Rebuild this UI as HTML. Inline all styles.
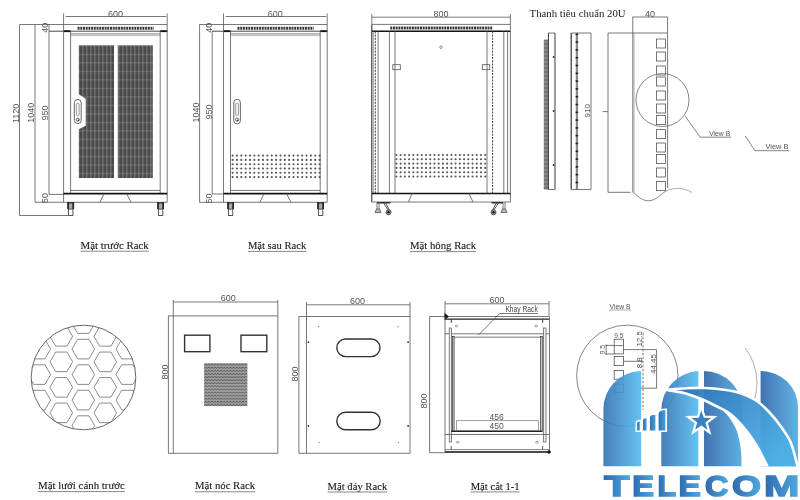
<!DOCTYPE html>
<html><head><meta charset="utf-8"><style>
html,body{margin:0;padding:0;background:#fff;}
svg{display:block;filter:blur(0.3px);}
</style></head><body>
<svg width="800" height="500" viewBox="0 0 800 500">
<rect width="800" height="500" fill="#fff"/>
<text x="115.39999999999999" y="17.0" font-family="Liberation Sans" font-size="9" fill="#555" text-anchor="middle" >600</text>
<line x1="65.6" y1="16.5" x2="166.2" y2="16.5" stroke="#555" stroke-width="0.8" />
<line x1="63.6" y1="13.5" x2="63.6" y2="24.5" stroke="#555" stroke-width="0.8" />
<line x1="167.2" y1="13.5" x2="167.2" y2="24.5" stroke="#555" stroke-width="0.8" />
<line x1="19.6" y1="24.5" x2="167.2" y2="24.5" stroke="#555" stroke-width="0.8" />
<line x1="77.6" y1="28.2" x2="153.7" y2="28.2" stroke="#3a3a3a" stroke-width="3" stroke-dasharray="2 0.7"/>
<line x1="49.0" y1="31.2" x2="167.2" y2="31.2" stroke="#333" stroke-width="0.9" />
<line x1="63.6" y1="31.2" x2="70.6" y2="31.2" stroke="#111" stroke-width="1.8" />
<line x1="160.2" y1="31.2" x2="167.2" y2="31.2" stroke="#111" stroke-width="1.8" />
<line x1="63.6" y1="24.5" x2="63.6" y2="202.3" stroke="#555" stroke-width="0.8" />
<line x1="167.2" y1="24.5" x2="167.2" y2="202.3" stroke="#555" stroke-width="0.8" />
<line x1="70.6" y1="31.2" x2="70.6" y2="193.5" stroke="#555" stroke-width="0.8" />
<line x1="160.2" y1="31.2" x2="160.2" y2="193.5" stroke="#555" stroke-width="0.8" />
<line x1="70.6" y1="33.9" x2="160.2" y2="33.9" stroke="#555" stroke-width="0.8" />
<line x1="70.6" y1="35.6" x2="160.2" y2="35.6" stroke="#888" stroke-width="0.6" />
<line x1="70.6" y1="190.4" x2="160.2" y2="190.4" stroke="#555" stroke-width="0.8" />
<line x1="63.6" y1="193.6" x2="167.2" y2="193.6" stroke="#111" stroke-width="1.6" />
<line x1="63.6" y1="202.3" x2="167.2" y2="202.3" stroke="#555" stroke-width="0.8" />
<line x1="104.19999999999999" y1="193.6" x2="99.79999999999998" y2="202.3" stroke="#555" stroke-width="0.8" />
<line x1="126.6" y1="193.6" x2="131.0" y2="202.3" stroke="#555" stroke-width="0.8" />
<rect x="67.4" y="202.3" width="6.6" height="6.8" fill="#aaa"/>
<rect x="67.3" y="202.3" width="1.7" height="6.8" fill="#222"/>
<rect x="72.4" y="202.3" width="1.7" height="6.8" fill="#222"/>
<rect x="67.3" y="202.3" width="6.8" height="1.2" fill="#222"/>
<rect x="68.5" y="209.10000000000002" width="4.4" height="6.4" stroke="#444" stroke-width="0.9" fill="#fff" />
<rect x="157.29999999999998" y="202.3" width="6.6" height="6.8" fill="#aaa"/>
<rect x="157.2" y="202.3" width="1.7" height="6.8" fill="#222"/>
<rect x="162.29999999999998" y="202.3" width="1.7" height="6.8" fill="#222"/>
<rect x="157.2" y="202.3" width="6.8" height="1.2" fill="#222"/>
<rect x="158.4" y="209.10000000000002" width="4.4" height="6.4" stroke="#444" stroke-width="0.9" fill="#fff" />
<defs>
<pattern id="mesh" width="4" height="8.5" patternUnits="userSpaceOnUse" x="0.3" y="45.3">
<rect width="4" height="8.5" fill="#484848"/>
<rect x="2" width="1.1" height="8.5" fill="#7c7c7c"/>
<rect y="0" width="4" height="1.3" fill="#666"/>
<rect x="2" y="0" width="1.1" height="1.3" fill="#8a8a8a"/>
</pattern>
<pattern id="mesh2" width="3.1" height="3.1" patternUnits="userSpaceOnUse" x="204.1" y="363.1">
<rect width="3.1" height="3.1" fill="#a8a8a8"/>
<path d="M0 2.3 L1.55 0.8 L3.1 2.3" fill="none" stroke="#5a5a5a" stroke-width="0.9"/>
</pattern>
</defs>
<path d="M78.8 45.3 H114 V178 H78.8 V129.3 L85.7 125.8 V98.8 L78.8 94.2 Z" fill="url(#mesh)"/>
<path d="M117.8 45.3 H152.8 V178 H117.8 Z" fill="url(#mesh)"/>
<rect x="74.3" y="99.5" width="6.9" height="24" stroke="#555" stroke-width="0.9" fill="#fff" rx="3.2"/>
<rect x="76.3" y="103.4" width="2.9" height="12.2" stroke="#777" stroke-width="0.7" fill="#f4f4f4" rx="1"/>
<circle cx="77.8" cy="119.6" r="1.6" fill="none" stroke="#444" stroke-width="0.8"/><circle cx="78.4" cy="120.2" r="0.7" fill="#222"/>
<line x1="19.5" y1="24.5" x2="19.5" y2="215.5" stroke="#555" stroke-width="0.8" />
<line x1="19.5" y1="215.5" x2="72" y2="215.5" stroke="#555" stroke-width="0.8" />
<line x1="35" y1="24.5" x2="35" y2="202.3" stroke="#555" stroke-width="0.8" />
<line x1="35" y1="202.3" x2="63.6" y2="202.3" stroke="#555" stroke-width="0.8" />
<line x1="49" y1="31.2" x2="49" y2="194.4" stroke="#555" stroke-width="0.8" />
<line x1="49" y1="194.4" x2="63.6" y2="194.4" stroke="#555" stroke-width="0.8" />
<line x1="49" y1="24.5" x2="49" y2="31.2" stroke="#555" stroke-width="0.8" />
<text x="19.0" y="113.3" font-family="Liberation Sans" font-size="9" fill="#555" text-anchor="middle" transform="rotate(-90 19.0 113.3)" >1120</text>
<text x="34.4" y="112.8" font-family="Liberation Sans" font-size="9" fill="#555" text-anchor="middle" transform="rotate(-90 34.4 112.8)" >1040</text>
<text x="48.4" y="113" font-family="Liberation Sans" font-size="9" fill="#555" text-anchor="middle" transform="rotate(-90 48.4 113)" >950</text>
<text x="48.0" y="27.8" font-family="Liberation Sans" font-size="9" fill="#555" text-anchor="middle" transform="rotate(-90 48.0 27.8)" >40</text>
<text x="48.0" y="198" font-family="Liberation Sans" font-size="9" fill="#555" text-anchor="middle" transform="rotate(-90 48.0 198)" >50</text>
<text x="275.35" y="17.0" font-family="Liberation Sans" font-size="9" fill="#555" text-anchor="middle" >600</text>
<line x1="225.5" y1="16.5" x2="326.2" y2="16.5" stroke="#555" stroke-width="0.8" />
<line x1="223.5" y1="13.5" x2="223.5" y2="24.5" stroke="#555" stroke-width="0.8" />
<line x1="327.2" y1="13.5" x2="327.2" y2="24.5" stroke="#555" stroke-width="0.8" />
<line x1="199.5" y1="24.5" x2="327.2" y2="24.5" stroke="#555" stroke-width="0.8" />
<line x1="237.5" y1="28.2" x2="313.7" y2="28.2" stroke="#3a3a3a" stroke-width="3" stroke-dasharray="2 0.7"/>
<line x1="212.0" y1="31.2" x2="327.2" y2="31.2" stroke="#333" stroke-width="0.9" />
<line x1="223.5" y1="31.2" x2="230.5" y2="31.2" stroke="#111" stroke-width="1.8" />
<line x1="320.2" y1="31.2" x2="327.2" y2="31.2" stroke="#111" stroke-width="1.8" />
<line x1="223.5" y1="24.5" x2="223.5" y2="202.3" stroke="#555" stroke-width="0.8" />
<line x1="327.2" y1="24.5" x2="327.2" y2="202.3" stroke="#555" stroke-width="0.8" />
<line x1="230.5" y1="31.2" x2="230.5" y2="193.5" stroke="#555" stroke-width="0.8" />
<line x1="320.2" y1="31.2" x2="320.2" y2="193.5" stroke="#555" stroke-width="0.8" />
<line x1="230.5" y1="33.9" x2="320.2" y2="33.9" stroke="#555" stroke-width="0.8" />
<line x1="230.5" y1="35.6" x2="320.2" y2="35.6" stroke="#888" stroke-width="0.6" />
<line x1="230.5" y1="190.4" x2="320.2" y2="190.4" stroke="#555" stroke-width="0.8" />
<line x1="223.5" y1="193.6" x2="327.2" y2="193.6" stroke="#111" stroke-width="1.6" />
<line x1="223.5" y1="202.3" x2="327.2" y2="202.3" stroke="#555" stroke-width="0.8" />
<line x1="264.15000000000003" y1="193.6" x2="259.75000000000006" y2="202.3" stroke="#555" stroke-width="0.8" />
<line x1="286.55" y1="193.6" x2="290.95" y2="202.3" stroke="#555" stroke-width="0.8" />
<rect x="227.29999999999998" y="202.3" width="6.6" height="6.8" fill="#aaa"/>
<rect x="227.2" y="202.3" width="1.7" height="6.8" fill="#222"/>
<rect x="232.29999999999998" y="202.3" width="1.7" height="6.8" fill="#222"/>
<rect x="227.2" y="202.3" width="6.8" height="1.2" fill="#222"/>
<rect x="228.4" y="209.10000000000002" width="4.4" height="6.4" stroke="#444" stroke-width="0.9" fill="#fff" />
<rect x="317.29999999999995" y="202.3" width="6.6" height="6.8" fill="#aaa"/>
<rect x="317.2" y="202.3" width="1.7" height="6.8" fill="#222"/>
<rect x="322.29999999999995" y="202.3" width="1.7" height="6.8" fill="#222"/>
<rect x="317.2" y="202.3" width="6.8" height="1.2" fill="#222"/>
<rect x="318.4" y="209.10000000000002" width="4.4" height="6.4" stroke="#444" stroke-width="0.9" fill="#fff" />
<circle cx="232.60" cy="155.60" r="1.05" fill="#555"/>
<circle cx="236.95" cy="155.60" r="1.05" fill="#555"/>
<circle cx="241.30" cy="155.60" r="1.05" fill="#555"/>
<circle cx="245.65" cy="155.60" r="1.05" fill="#555"/>
<circle cx="250.00" cy="155.60" r="1.05" fill="#555"/>
<circle cx="254.35" cy="155.60" r="1.05" fill="#555"/>
<circle cx="258.70" cy="155.60" r="1.05" fill="#555"/>
<circle cx="263.05" cy="155.60" r="1.05" fill="#555"/>
<circle cx="267.40" cy="155.60" r="1.05" fill="#555"/>
<circle cx="271.75" cy="155.60" r="1.05" fill="#555"/>
<circle cx="276.10" cy="155.60" r="1.05" fill="#555"/>
<circle cx="280.45" cy="155.60" r="1.05" fill="#555"/>
<circle cx="284.80" cy="155.60" r="1.05" fill="#555"/>
<circle cx="289.15" cy="155.60" r="1.05" fill="#555"/>
<circle cx="293.50" cy="155.60" r="1.05" fill="#555"/>
<circle cx="297.85" cy="155.60" r="1.05" fill="#555"/>
<circle cx="302.20" cy="155.60" r="1.05" fill="#555"/>
<circle cx="306.55" cy="155.60" r="1.05" fill="#555"/>
<circle cx="310.90" cy="155.60" r="1.05" fill="#555"/>
<circle cx="315.25" cy="155.60" r="1.05" fill="#555"/>
<circle cx="319.60" cy="155.60" r="1.05" fill="#555"/>
<circle cx="232.60" cy="159.90" r="1.05" fill="#555"/>
<circle cx="236.95" cy="159.90" r="1.05" fill="#555"/>
<circle cx="241.30" cy="159.90" r="1.05" fill="#555"/>
<circle cx="245.65" cy="159.90" r="1.05" fill="#555"/>
<circle cx="250.00" cy="159.90" r="1.05" fill="#555"/>
<circle cx="254.35" cy="159.90" r="1.05" fill="#555"/>
<circle cx="258.70" cy="159.90" r="1.05" fill="#555"/>
<circle cx="263.05" cy="159.90" r="1.05" fill="#555"/>
<circle cx="267.40" cy="159.90" r="1.05" fill="#555"/>
<circle cx="271.75" cy="159.90" r="1.05" fill="#555"/>
<circle cx="276.10" cy="159.90" r="1.05" fill="#555"/>
<circle cx="280.45" cy="159.90" r="1.05" fill="#555"/>
<circle cx="284.80" cy="159.90" r="1.05" fill="#555"/>
<circle cx="289.15" cy="159.90" r="1.05" fill="#555"/>
<circle cx="293.50" cy="159.90" r="1.05" fill="#555"/>
<circle cx="297.85" cy="159.90" r="1.05" fill="#555"/>
<circle cx="302.20" cy="159.90" r="1.05" fill="#555"/>
<circle cx="306.55" cy="159.90" r="1.05" fill="#555"/>
<circle cx="310.90" cy="159.90" r="1.05" fill="#555"/>
<circle cx="315.25" cy="159.90" r="1.05" fill="#555"/>
<circle cx="319.60" cy="159.90" r="1.05" fill="#555"/>
<circle cx="232.60" cy="164.20" r="1.05" fill="#555"/>
<circle cx="236.95" cy="164.20" r="1.05" fill="#555"/>
<circle cx="241.30" cy="164.20" r="1.05" fill="#555"/>
<circle cx="245.65" cy="164.20" r="1.05" fill="#555"/>
<circle cx="250.00" cy="164.20" r="1.05" fill="#555"/>
<circle cx="254.35" cy="164.20" r="1.05" fill="#555"/>
<circle cx="258.70" cy="164.20" r="1.05" fill="#555"/>
<circle cx="263.05" cy="164.20" r="1.05" fill="#555"/>
<circle cx="267.40" cy="164.20" r="1.05" fill="#555"/>
<circle cx="271.75" cy="164.20" r="1.05" fill="#555"/>
<circle cx="276.10" cy="164.20" r="1.05" fill="#555"/>
<circle cx="280.45" cy="164.20" r="1.05" fill="#555"/>
<circle cx="284.80" cy="164.20" r="1.05" fill="#555"/>
<circle cx="289.15" cy="164.20" r="1.05" fill="#555"/>
<circle cx="293.50" cy="164.20" r="1.05" fill="#555"/>
<circle cx="297.85" cy="164.20" r="1.05" fill="#555"/>
<circle cx="302.20" cy="164.20" r="1.05" fill="#555"/>
<circle cx="306.55" cy="164.20" r="1.05" fill="#555"/>
<circle cx="310.90" cy="164.20" r="1.05" fill="#555"/>
<circle cx="315.25" cy="164.20" r="1.05" fill="#555"/>
<circle cx="319.60" cy="164.20" r="1.05" fill="#555"/>
<circle cx="232.60" cy="168.50" r="1.05" fill="#555"/>
<circle cx="236.95" cy="168.50" r="1.05" fill="#555"/>
<circle cx="241.30" cy="168.50" r="1.05" fill="#555"/>
<circle cx="245.65" cy="168.50" r="1.05" fill="#555"/>
<circle cx="250.00" cy="168.50" r="1.05" fill="#555"/>
<circle cx="254.35" cy="168.50" r="1.05" fill="#555"/>
<circle cx="258.70" cy="168.50" r="1.05" fill="#555"/>
<circle cx="263.05" cy="168.50" r="1.05" fill="#555"/>
<circle cx="267.40" cy="168.50" r="1.05" fill="#555"/>
<circle cx="271.75" cy="168.50" r="1.05" fill="#555"/>
<circle cx="276.10" cy="168.50" r="1.05" fill="#555"/>
<circle cx="280.45" cy="168.50" r="1.05" fill="#555"/>
<circle cx="284.80" cy="168.50" r="1.05" fill="#555"/>
<circle cx="289.15" cy="168.50" r="1.05" fill="#555"/>
<circle cx="293.50" cy="168.50" r="1.05" fill="#555"/>
<circle cx="297.85" cy="168.50" r="1.05" fill="#555"/>
<circle cx="302.20" cy="168.50" r="1.05" fill="#555"/>
<circle cx="306.55" cy="168.50" r="1.05" fill="#555"/>
<circle cx="310.90" cy="168.50" r="1.05" fill="#555"/>
<circle cx="315.25" cy="168.50" r="1.05" fill="#555"/>
<circle cx="319.60" cy="168.50" r="1.05" fill="#555"/>
<circle cx="232.60" cy="172.80" r="1.05" fill="#555"/>
<circle cx="236.95" cy="172.80" r="1.05" fill="#555"/>
<circle cx="241.30" cy="172.80" r="1.05" fill="#555"/>
<circle cx="245.65" cy="172.80" r="1.05" fill="#555"/>
<circle cx="250.00" cy="172.80" r="1.05" fill="#555"/>
<circle cx="254.35" cy="172.80" r="1.05" fill="#555"/>
<circle cx="258.70" cy="172.80" r="1.05" fill="#555"/>
<circle cx="263.05" cy="172.80" r="1.05" fill="#555"/>
<circle cx="267.40" cy="172.80" r="1.05" fill="#555"/>
<circle cx="271.75" cy="172.80" r="1.05" fill="#555"/>
<circle cx="276.10" cy="172.80" r="1.05" fill="#555"/>
<circle cx="280.45" cy="172.80" r="1.05" fill="#555"/>
<circle cx="284.80" cy="172.80" r="1.05" fill="#555"/>
<circle cx="289.15" cy="172.80" r="1.05" fill="#555"/>
<circle cx="293.50" cy="172.80" r="1.05" fill="#555"/>
<circle cx="297.85" cy="172.80" r="1.05" fill="#555"/>
<circle cx="302.20" cy="172.80" r="1.05" fill="#555"/>
<circle cx="306.55" cy="172.80" r="1.05" fill="#555"/>
<circle cx="310.90" cy="172.80" r="1.05" fill="#555"/>
<circle cx="315.25" cy="172.80" r="1.05" fill="#555"/>
<circle cx="319.60" cy="172.80" r="1.05" fill="#555"/>
<circle cx="232.60" cy="177.10" r="1.05" fill="#555"/>
<circle cx="236.95" cy="177.10" r="1.05" fill="#555"/>
<circle cx="241.30" cy="177.10" r="1.05" fill="#555"/>
<circle cx="245.65" cy="177.10" r="1.05" fill="#555"/>
<circle cx="250.00" cy="177.10" r="1.05" fill="#555"/>
<circle cx="254.35" cy="177.10" r="1.05" fill="#555"/>
<circle cx="258.70" cy="177.10" r="1.05" fill="#555"/>
<circle cx="263.05" cy="177.10" r="1.05" fill="#555"/>
<circle cx="267.40" cy="177.10" r="1.05" fill="#555"/>
<circle cx="271.75" cy="177.10" r="1.05" fill="#555"/>
<circle cx="276.10" cy="177.10" r="1.05" fill="#555"/>
<circle cx="280.45" cy="177.10" r="1.05" fill="#555"/>
<circle cx="284.80" cy="177.10" r="1.05" fill="#555"/>
<circle cx="289.15" cy="177.10" r="1.05" fill="#555"/>
<circle cx="293.50" cy="177.10" r="1.05" fill="#555"/>
<circle cx="297.85" cy="177.10" r="1.05" fill="#555"/>
<circle cx="302.20" cy="177.10" r="1.05" fill="#555"/>
<circle cx="306.55" cy="177.10" r="1.05" fill="#555"/>
<circle cx="310.90" cy="177.10" r="1.05" fill="#555"/>
<circle cx="315.25" cy="177.10" r="1.05" fill="#555"/>
<circle cx="319.60" cy="177.10" r="1.05" fill="#555"/>
<rect x="233.8" y="99.3" width="6.6" height="24.6" stroke="#555" stroke-width="0.9" fill="#fff" rx="3.2"/>
<rect x="235.7" y="103.2" width="2.9" height="12.2" stroke="#777" stroke-width="0.7" fill="#f4f4f4" rx="1"/>
<circle cx="237.1" cy="119.6" r="1.6" fill="none" stroke="#444" stroke-width="0.8"/><circle cx="237.7" cy="120.2" r="0.7" fill="#222"/>
<line x1="199.6" y1="24.5" x2="199.6" y2="202.3" stroke="#555" stroke-width="0.8" />
<line x1="199.6" y1="202.3" x2="223.5" y2="202.3" stroke="#555" stroke-width="0.8" />
<line x1="212.2" y1="31.2" x2="212.2" y2="194" stroke="#555" stroke-width="0.8" />
<line x1="212.2" y1="194" x2="223.5" y2="194" stroke="#555" stroke-width="0.8" />
<text x="199.2" y="112.5" font-family="Liberation Sans" font-size="9" fill="#555" text-anchor="middle" transform="rotate(-90 199.2 112.5)" >1040</text>
<text x="211.6" y="112" font-family="Liberation Sans" font-size="9" fill="#555" text-anchor="middle" transform="rotate(-90 211.6 112)" >950</text>
<text x="211.8" y="27.8" font-family="Liberation Sans" font-size="9" fill="#555" text-anchor="middle" transform="rotate(-90 211.8 27.8)" >40</text>
<text x="211.8" y="198.5" font-family="Liberation Sans" font-size="9" fill="#555" text-anchor="middle" transform="rotate(-90 211.8 198.5)" >50</text>
<text x="441" y="17.0" font-family="Liberation Sans" font-size="9" fill="#555" text-anchor="middle" >800</text>
<line x1="371.8" y1="17.2" x2="510.4" y2="17.2" stroke="#555" stroke-width="0.8" />
<line x1="371.8" y1="14" x2="371.8" y2="24.4" stroke="#555" stroke-width="0.8" />
<line x1="510.4" y1="14" x2="510.4" y2="24.4" stroke="#555" stroke-width="0.8" />
<line x1="371.8" y1="24.4" x2="510.4" y2="24.4" stroke="#555" stroke-width="0.8" />
<line x1="390.3" y1="28.1" x2="492.2" y2="28.1" stroke="#3a3a3a" stroke-width="3" stroke-dasharray="2 0.7"/>
<line x1="371.8" y1="31.3" x2="510.4" y2="31.3" stroke="#111" stroke-width="1.4" />
<line x1="371.8" y1="24.4" x2="371.8" y2="202" stroke="#333" stroke-width="1.1" />
<line x1="373.4" y1="31.3" x2="373.4" y2="193.5" stroke="#666" stroke-width="0.6" />
<line x1="510.4" y1="24.4" x2="510.4" y2="202" stroke="#555" stroke-width="0.8" />
<line x1="375.3" y1="31.3" x2="375.3" y2="193.5" stroke="#333" stroke-width="0.9" stroke-dasharray="2.2 1"/>
<line x1="492.6" y1="31.3" x2="492.6" y2="193.5" stroke="#333" stroke-width="0.9" stroke-dasharray="2.2 1"/>
<line x1="378.1" y1="31.3" x2="378.1" y2="193.5" stroke="#555" stroke-width="0.8" />
<line x1="389.4" y1="31.3" x2="389.4" y2="193.5" stroke="#555" stroke-width="0.8" />
<line x1="395" y1="31.3" x2="395" y2="193.5" stroke="#555" stroke-width="0.8" />
<line x1="487" y1="31.3" x2="487" y2="193.5" stroke="#555" stroke-width="0.8" />
<line x1="503.8" y1="31.3" x2="503.8" y2="193.5" stroke="#555" stroke-width="0.8" />
<line x1="507.6" y1="31.3" x2="507.6" y2="193.5" stroke="#555" stroke-width="0.8" />
<circle cx="441" cy="47.2" r="1.3" fill="none" stroke="#666" stroke-width="0.7"/>
<rect x="392.8" y="64.7" width="7.5" height="5" stroke="#555" stroke-width="0.8" fill="none" />
<rect x="482.3" y="64.7" width="7.5" height="5" stroke="#555" stroke-width="0.8" fill="none" />
<circle cx="396.40" cy="155.00" r="1.05" fill="#555"/>
<circle cx="400.63" cy="155.00" r="1.05" fill="#555"/>
<circle cx="404.86" cy="155.00" r="1.05" fill="#555"/>
<circle cx="409.09" cy="155.00" r="1.05" fill="#555"/>
<circle cx="413.32" cy="155.00" r="1.05" fill="#555"/>
<circle cx="417.55" cy="155.00" r="1.05" fill="#555"/>
<circle cx="421.78" cy="155.00" r="1.05" fill="#555"/>
<circle cx="426.01" cy="155.00" r="1.05" fill="#555"/>
<circle cx="430.24" cy="155.00" r="1.05" fill="#555"/>
<circle cx="434.47" cy="155.00" r="1.05" fill="#555"/>
<circle cx="438.70" cy="155.00" r="1.05" fill="#555"/>
<circle cx="442.93" cy="155.00" r="1.05" fill="#555"/>
<circle cx="447.16" cy="155.00" r="1.05" fill="#555"/>
<circle cx="451.39" cy="155.00" r="1.05" fill="#555"/>
<circle cx="455.62" cy="155.00" r="1.05" fill="#555"/>
<circle cx="459.85" cy="155.00" r="1.05" fill="#555"/>
<circle cx="464.08" cy="155.00" r="1.05" fill="#555"/>
<circle cx="468.31" cy="155.00" r="1.05" fill="#555"/>
<circle cx="472.54" cy="155.00" r="1.05" fill="#555"/>
<circle cx="476.77" cy="155.00" r="1.05" fill="#555"/>
<circle cx="481.00" cy="155.00" r="1.05" fill="#555"/>
<circle cx="485.23" cy="155.00" r="1.05" fill="#555"/>
<circle cx="396.40" cy="159.30" r="1.05" fill="#555"/>
<circle cx="400.63" cy="159.30" r="1.05" fill="#555"/>
<circle cx="404.86" cy="159.30" r="1.05" fill="#555"/>
<circle cx="409.09" cy="159.30" r="1.05" fill="#555"/>
<circle cx="413.32" cy="159.30" r="1.05" fill="#555"/>
<circle cx="417.55" cy="159.30" r="1.05" fill="#555"/>
<circle cx="421.78" cy="159.30" r="1.05" fill="#555"/>
<circle cx="426.01" cy="159.30" r="1.05" fill="#555"/>
<circle cx="430.24" cy="159.30" r="1.05" fill="#555"/>
<circle cx="434.47" cy="159.30" r="1.05" fill="#555"/>
<circle cx="438.70" cy="159.30" r="1.05" fill="#555"/>
<circle cx="442.93" cy="159.30" r="1.05" fill="#555"/>
<circle cx="447.16" cy="159.30" r="1.05" fill="#555"/>
<circle cx="451.39" cy="159.30" r="1.05" fill="#555"/>
<circle cx="455.62" cy="159.30" r="1.05" fill="#555"/>
<circle cx="459.85" cy="159.30" r="1.05" fill="#555"/>
<circle cx="464.08" cy="159.30" r="1.05" fill="#555"/>
<circle cx="468.31" cy="159.30" r="1.05" fill="#555"/>
<circle cx="472.54" cy="159.30" r="1.05" fill="#555"/>
<circle cx="476.77" cy="159.30" r="1.05" fill="#555"/>
<circle cx="481.00" cy="159.30" r="1.05" fill="#555"/>
<circle cx="485.23" cy="159.30" r="1.05" fill="#555"/>
<circle cx="396.40" cy="163.60" r="1.05" fill="#555"/>
<circle cx="400.63" cy="163.60" r="1.05" fill="#555"/>
<circle cx="404.86" cy="163.60" r="1.05" fill="#555"/>
<circle cx="409.09" cy="163.60" r="1.05" fill="#555"/>
<circle cx="413.32" cy="163.60" r="1.05" fill="#555"/>
<circle cx="417.55" cy="163.60" r="1.05" fill="#555"/>
<circle cx="421.78" cy="163.60" r="1.05" fill="#555"/>
<circle cx="426.01" cy="163.60" r="1.05" fill="#555"/>
<circle cx="430.24" cy="163.60" r="1.05" fill="#555"/>
<circle cx="434.47" cy="163.60" r="1.05" fill="#555"/>
<circle cx="438.70" cy="163.60" r="1.05" fill="#555"/>
<circle cx="442.93" cy="163.60" r="1.05" fill="#555"/>
<circle cx="447.16" cy="163.60" r="1.05" fill="#555"/>
<circle cx="451.39" cy="163.60" r="1.05" fill="#555"/>
<circle cx="455.62" cy="163.60" r="1.05" fill="#555"/>
<circle cx="459.85" cy="163.60" r="1.05" fill="#555"/>
<circle cx="464.08" cy="163.60" r="1.05" fill="#555"/>
<circle cx="468.31" cy="163.60" r="1.05" fill="#555"/>
<circle cx="472.54" cy="163.60" r="1.05" fill="#555"/>
<circle cx="476.77" cy="163.60" r="1.05" fill="#555"/>
<circle cx="481.00" cy="163.60" r="1.05" fill="#555"/>
<circle cx="485.23" cy="163.60" r="1.05" fill="#555"/>
<circle cx="396.40" cy="167.90" r="1.05" fill="#555"/>
<circle cx="400.63" cy="167.90" r="1.05" fill="#555"/>
<circle cx="404.86" cy="167.90" r="1.05" fill="#555"/>
<circle cx="409.09" cy="167.90" r="1.05" fill="#555"/>
<circle cx="413.32" cy="167.90" r="1.05" fill="#555"/>
<circle cx="417.55" cy="167.90" r="1.05" fill="#555"/>
<circle cx="421.78" cy="167.90" r="1.05" fill="#555"/>
<circle cx="426.01" cy="167.90" r="1.05" fill="#555"/>
<circle cx="430.24" cy="167.90" r="1.05" fill="#555"/>
<circle cx="434.47" cy="167.90" r="1.05" fill="#555"/>
<circle cx="438.70" cy="167.90" r="1.05" fill="#555"/>
<circle cx="442.93" cy="167.90" r="1.05" fill="#555"/>
<circle cx="447.16" cy="167.90" r="1.05" fill="#555"/>
<circle cx="451.39" cy="167.90" r="1.05" fill="#555"/>
<circle cx="455.62" cy="167.90" r="1.05" fill="#555"/>
<circle cx="459.85" cy="167.90" r="1.05" fill="#555"/>
<circle cx="464.08" cy="167.90" r="1.05" fill="#555"/>
<circle cx="468.31" cy="167.90" r="1.05" fill="#555"/>
<circle cx="472.54" cy="167.90" r="1.05" fill="#555"/>
<circle cx="476.77" cy="167.90" r="1.05" fill="#555"/>
<circle cx="481.00" cy="167.90" r="1.05" fill="#555"/>
<circle cx="485.23" cy="167.90" r="1.05" fill="#555"/>
<circle cx="396.40" cy="172.20" r="1.05" fill="#555"/>
<circle cx="400.63" cy="172.20" r="1.05" fill="#555"/>
<circle cx="404.86" cy="172.20" r="1.05" fill="#555"/>
<circle cx="409.09" cy="172.20" r="1.05" fill="#555"/>
<circle cx="413.32" cy="172.20" r="1.05" fill="#555"/>
<circle cx="417.55" cy="172.20" r="1.05" fill="#555"/>
<circle cx="421.78" cy="172.20" r="1.05" fill="#555"/>
<circle cx="426.01" cy="172.20" r="1.05" fill="#555"/>
<circle cx="430.24" cy="172.20" r="1.05" fill="#555"/>
<circle cx="434.47" cy="172.20" r="1.05" fill="#555"/>
<circle cx="438.70" cy="172.20" r="1.05" fill="#555"/>
<circle cx="442.93" cy="172.20" r="1.05" fill="#555"/>
<circle cx="447.16" cy="172.20" r="1.05" fill="#555"/>
<circle cx="451.39" cy="172.20" r="1.05" fill="#555"/>
<circle cx="455.62" cy="172.20" r="1.05" fill="#555"/>
<circle cx="459.85" cy="172.20" r="1.05" fill="#555"/>
<circle cx="464.08" cy="172.20" r="1.05" fill="#555"/>
<circle cx="468.31" cy="172.20" r="1.05" fill="#555"/>
<circle cx="472.54" cy="172.20" r="1.05" fill="#555"/>
<circle cx="476.77" cy="172.20" r="1.05" fill="#555"/>
<circle cx="481.00" cy="172.20" r="1.05" fill="#555"/>
<circle cx="485.23" cy="172.20" r="1.05" fill="#555"/>
<circle cx="396.40" cy="176.50" r="1.05" fill="#555"/>
<circle cx="400.63" cy="176.50" r="1.05" fill="#555"/>
<circle cx="404.86" cy="176.50" r="1.05" fill="#555"/>
<circle cx="409.09" cy="176.50" r="1.05" fill="#555"/>
<circle cx="413.32" cy="176.50" r="1.05" fill="#555"/>
<circle cx="417.55" cy="176.50" r="1.05" fill="#555"/>
<circle cx="421.78" cy="176.50" r="1.05" fill="#555"/>
<circle cx="426.01" cy="176.50" r="1.05" fill="#555"/>
<circle cx="430.24" cy="176.50" r="1.05" fill="#555"/>
<circle cx="434.47" cy="176.50" r="1.05" fill="#555"/>
<circle cx="438.70" cy="176.50" r="1.05" fill="#555"/>
<circle cx="442.93" cy="176.50" r="1.05" fill="#555"/>
<circle cx="447.16" cy="176.50" r="1.05" fill="#555"/>
<circle cx="451.39" cy="176.50" r="1.05" fill="#555"/>
<circle cx="455.62" cy="176.50" r="1.05" fill="#555"/>
<circle cx="459.85" cy="176.50" r="1.05" fill="#555"/>
<circle cx="464.08" cy="176.50" r="1.05" fill="#555"/>
<circle cx="468.31" cy="176.50" r="1.05" fill="#555"/>
<circle cx="472.54" cy="176.50" r="1.05" fill="#555"/>
<circle cx="476.77" cy="176.50" r="1.05" fill="#555"/>
<circle cx="481.00" cy="176.50" r="1.05" fill="#555"/>
<circle cx="485.23" cy="176.50" r="1.05" fill="#555"/>
<line x1="371.8" y1="193.5" x2="510.4" y2="193.5" stroke="#111" stroke-width="1.5" />
<line x1="371.8" y1="202" x2="510.4" y2="202" stroke="#555" stroke-width="0.8" />
<line x1="412" y1="193.5" x2="408.5" y2="202" stroke="#555" stroke-width="0.8" />
<line x1="469" y1="193.5" x2="473" y2="202" stroke="#555" stroke-width="0.8" />
<line x1="377" y1="202.8" x2="390.5" y2="202.8" stroke="#222" stroke-width="1.4" />
<line x1="377" y1="202" x2="377" y2="209" stroke="#555" stroke-width="0.8" />
<line x1="379" y1="202" x2="379" y2="209" stroke="#555" stroke-width="0.8" />
<path d="M375 212.5 L376.5 209 L379.5 209 L381 212.5 Z" fill="#bbb" stroke="#444" stroke-width="0.7"/>
<line x1="383.5" y1="203" x2="388.5" y2="210.5" stroke="#444" stroke-width="0.9" />
<line x1="385.5" y1="203" x2="389.5" y2="210" stroke="#444" stroke-width="0.9" />
<circle cx="388.5" cy="212.3" r="2.5" fill="#aaa" stroke="#333" stroke-width="0.8"/>
<circle cx="388.5" cy="212.3" r="1.2" fill="#111"/>
<line x1="503" y1="202.8" x2="491.5" y2="202.8" stroke="#222" stroke-width="1.4" />
<line x1="503" y1="202" x2="503" y2="209" stroke="#555" stroke-width="0.8" />
<line x1="505" y1="202" x2="505" y2="209" stroke="#555" stroke-width="0.8" />
<path d="M501 212.5 L502.5 209 L505.5 209 L507 212.5 Z" fill="#bbb" stroke="#444" stroke-width="0.7"/>
<line x1="498.5" y1="203" x2="493.5" y2="210.5" stroke="#444" stroke-width="0.9" />
<line x1="496.5" y1="203" x2="492.5" y2="210" stroke="#444" stroke-width="0.9" />
<circle cx="493.5" cy="212.3" r="2.5" fill="#aaa" stroke="#333" stroke-width="0.8"/>
<circle cx="493.5" cy="212.3" r="1.2" fill="#111"/>
<text x="114.64999999999999" y="248.8" font-family="Liberation Serif" font-size="11" fill="#1a1a1a" stroke="#1a1a1a" stroke-width="0.12" text-anchor="middle" textLength="68.1" lengthAdjust="spacingAndGlyphs">Mặt trước Rack</text>
<line x1="80.6" y1="251.20000000000002" x2="148.7" y2="251.20000000000002" stroke="#555" stroke-width="0.7" />
<text x="277.05" y="249" font-family="Liberation Serif" font-size="11" fill="#1a1a1a" stroke="#1a1a1a" stroke-width="0.12" text-anchor="middle" textLength="58.29999999999998" lengthAdjust="spacingAndGlyphs">Mặt sau Rack</text>
<line x1="247.9" y1="251.4" x2="306.2" y2="251.4" stroke="#555" stroke-width="0.7" />
<text x="443.1" y="249.2" font-family="Liberation Serif" font-size="11" fill="#1a1a1a" stroke="#1a1a1a" stroke-width="0.12" text-anchor="middle" textLength="66.19999999999999" lengthAdjust="spacingAndGlyphs">Mặt hông Rack</text>
<line x1="410" y1="251.6" x2="476.2" y2="251.6" stroke="#555" stroke-width="0.7" />
<text x="529.6" y="17" font-family="Liberation Serif" font-size="11" fill="#222" textLength="96" lengthAdjust="spacingAndGlyphs">Thanh tiêu chuẩn 20U</text>
<rect x="543.8" y="40" width="4.4" height="149.5" fill="#888"/>
<line x1="543.8" y1="40" x2="548.2" y2="40" stroke="#444" stroke-width="0.6" />
<line x1="543.8" y1="44" x2="548.2" y2="44" stroke="#444" stroke-width="0.6" />
<line x1="543.8" y1="48" x2="548.2" y2="48" stroke="#444" stroke-width="0.6" />
<line x1="543.8" y1="52" x2="548.2" y2="52" stroke="#444" stroke-width="0.6" />
<line x1="543.8" y1="56" x2="548.2" y2="56" stroke="#444" stroke-width="0.6" />
<line x1="543.8" y1="60" x2="548.2" y2="60" stroke="#444" stroke-width="0.6" />
<line x1="543.8" y1="64" x2="548.2" y2="64" stroke="#444" stroke-width="0.6" />
<line x1="543.8" y1="68" x2="548.2" y2="68" stroke="#444" stroke-width="0.6" />
<line x1="543.8" y1="72" x2="548.2" y2="72" stroke="#444" stroke-width="0.6" />
<line x1="543.8" y1="76" x2="548.2" y2="76" stroke="#444" stroke-width="0.6" />
<line x1="543.8" y1="80" x2="548.2" y2="80" stroke="#444" stroke-width="0.6" />
<line x1="543.8" y1="84" x2="548.2" y2="84" stroke="#444" stroke-width="0.6" />
<line x1="543.8" y1="88" x2="548.2" y2="88" stroke="#444" stroke-width="0.6" />
<line x1="543.8" y1="92" x2="548.2" y2="92" stroke="#444" stroke-width="0.6" />
<line x1="543.8" y1="96" x2="548.2" y2="96" stroke="#444" stroke-width="0.6" />
<line x1="543.8" y1="100" x2="548.2" y2="100" stroke="#444" stroke-width="0.6" />
<line x1="543.8" y1="104" x2="548.2" y2="104" stroke="#444" stroke-width="0.6" />
<line x1="543.8" y1="108" x2="548.2" y2="108" stroke="#444" stroke-width="0.6" />
<line x1="543.8" y1="112" x2="548.2" y2="112" stroke="#444" stroke-width="0.6" />
<line x1="543.8" y1="116" x2="548.2" y2="116" stroke="#444" stroke-width="0.6" />
<line x1="543.8" y1="120" x2="548.2" y2="120" stroke="#444" stroke-width="0.6" />
<line x1="543.8" y1="124" x2="548.2" y2="124" stroke="#444" stroke-width="0.6" />
<line x1="543.8" y1="128" x2="548.2" y2="128" stroke="#444" stroke-width="0.6" />
<line x1="543.8" y1="132" x2="548.2" y2="132" stroke="#444" stroke-width="0.6" />
<line x1="543.8" y1="136" x2="548.2" y2="136" stroke="#444" stroke-width="0.6" />
<line x1="543.8" y1="140" x2="548.2" y2="140" stroke="#444" stroke-width="0.6" />
<line x1="543.8" y1="144" x2="548.2" y2="144" stroke="#444" stroke-width="0.6" />
<line x1="543.8" y1="148" x2="548.2" y2="148" stroke="#444" stroke-width="0.6" />
<line x1="543.8" y1="152" x2="548.2" y2="152" stroke="#444" stroke-width="0.6" />
<line x1="543.8" y1="156" x2="548.2" y2="156" stroke="#444" stroke-width="0.6" />
<line x1="543.8" y1="160" x2="548.2" y2="160" stroke="#444" stroke-width="0.6" />
<line x1="543.8" y1="164" x2="548.2" y2="164" stroke="#444" stroke-width="0.6" />
<line x1="543.8" y1="168" x2="548.2" y2="168" stroke="#444" stroke-width="0.6" />
<line x1="543.8" y1="172" x2="548.2" y2="172" stroke="#444" stroke-width="0.6" />
<line x1="543.8" y1="176" x2="548.2" y2="176" stroke="#444" stroke-width="0.6" />
<line x1="543.8" y1="180" x2="548.2" y2="180" stroke="#444" stroke-width="0.6" />
<line x1="543.8" y1="184" x2="548.2" y2="184" stroke="#444" stroke-width="0.6" />
<line x1="543.8" y1="188" x2="548.2" y2="188" stroke="#444" stroke-width="0.6" />
<line x1="548.4" y1="33" x2="548.4" y2="189.5" stroke="#222" stroke-width="0.9" />
<line x1="555" y1="33" x2="555" y2="189.5" stroke="#222" stroke-width="0.9" />
<line x1="548.4" y1="33" x2="555" y2="33" stroke="#555" stroke-width="0.8" />
<line x1="548.4" y1="189.5" x2="555" y2="189.5" stroke="#555" stroke-width="0.8" />
<circle cx="553.6" cy="57" r="0.9" fill="#222"/><circle cx="553.6" cy="111" r="0.9" fill="#222"/><circle cx="553.6" cy="165" r="0.9" fill="#222"/>
<line x1="571.2" y1="33" x2="571.2" y2="189.5" stroke="#333" stroke-width="1.2" />
<rect x="575.8" y="33" width="2.2" height="156.5" fill="#888"/>
<rect x="575.6" y="33.5" width="2.6" height="1.6" fill="#222"/>
<rect x="575.6" y="41.3" width="2.6" height="1.6" fill="#222"/>
<rect x="575.6" y="49.1" width="2.6" height="1.6" fill="#222"/>
<rect x="575.6" y="56.9" width="2.6" height="1.6" fill="#222"/>
<rect x="575.6" y="64.7" width="2.6" height="1.6" fill="#222"/>
<rect x="575.6" y="72.5" width="2.6" height="1.6" fill="#222"/>
<rect x="575.6" y="80.3" width="2.6" height="1.6" fill="#222"/>
<rect x="575.6" y="88.1" width="2.6" height="1.6" fill="#222"/>
<rect x="575.6" y="95.9" width="2.6" height="1.6" fill="#222"/>
<rect x="575.6" y="103.7" width="2.6" height="1.6" fill="#222"/>
<rect x="575.6" y="111.5" width="2.6" height="1.6" fill="#222"/>
<rect x="575.6" y="119.3" width="2.6" height="1.6" fill="#222"/>
<rect x="575.6" y="127.1" width="2.6" height="1.6" fill="#222"/>
<rect x="575.6" y="134.9" width="2.6" height="1.6" fill="#222"/>
<rect x="575.6" y="142.7" width="2.6" height="1.6" fill="#222"/>
<rect x="575.6" y="150.5" width="2.6" height="1.6" fill="#222"/>
<rect x="575.6" y="158.3" width="2.6" height="1.6" fill="#222"/>
<rect x="575.6" y="166.1" width="2.6" height="1.6" fill="#222"/>
<rect x="575.6" y="173.9" width="2.6" height="1.6" fill="#222"/>
<rect x="575.6" y="181.7" width="2.6" height="1.6" fill="#222"/>
<line x1="591" y1="33" x2="591" y2="189.5" stroke="#555" stroke-width="0.8" />
<line x1="571.2" y1="33" x2="591" y2="33" stroke="#555" stroke-width="0.8" />
<line x1="571.2" y1="189.5" x2="591" y2="189.5" stroke="#555" stroke-width="0.8" />
<text x="589.6" y="110.8" font-family="Liberation Sans" font-size="8" fill="#555" text-anchor="middle" transform="rotate(-90 589.6 110.8)" >910</text>
<line x1="608" y1="33" x2="608" y2="192.3" stroke="#555" stroke-width="0.8" />
<line x1="608" y1="33" x2="667.6" y2="33" stroke="#555" stroke-width="0.8" />
<line x1="608" y1="192.3" x2="630.6" y2="192.3" stroke="#555" stroke-width="0.8" />
<line x1="602.6" y1="111.6" x2="608" y2="111.6" stroke="#555" stroke-width="0.8" />
<line x1="632.8" y1="17" x2="632.8" y2="192.3" stroke="#555" stroke-width="0.8" />
<line x1="634" y1="33" x2="634" y2="193" stroke="#777" stroke-width="0.6" />
<line x1="667.6" y1="17" x2="667.6" y2="188" stroke="#555" stroke-width="0.8" />
<line x1="632.4" y1="17" x2="667.6" y2="17" stroke="#555" stroke-width="0.8" />
<text x="650" y="16.8" font-family="Liberation Sans" font-size="9" fill="#555" text-anchor="middle" >40</text>
<rect x="656.6" y="39" width="9" height="9" stroke="#555" stroke-width="0.8" fill="none" />
<rect x="656.6" y="52" width="9" height="9" stroke="#555" stroke-width="0.8" fill="none" />
<rect x="656.6" y="66" width="9" height="9" stroke="#555" stroke-width="0.8" fill="none" />
<rect x="656.6" y="77" width="9" height="9" stroke="#555" stroke-width="0.8" fill="none" />
<rect x="656.6" y="91" width="9" height="9" stroke="#555" stroke-width="0.8" fill="none" />
<rect x="656.6" y="104" width="9" height="9" stroke="#555" stroke-width="0.8" fill="none" />
<rect x="656.6" y="115.6" width="9" height="9" stroke="#555" stroke-width="0.8" fill="none" />
<rect x="656.6" y="129.6" width="9" height="9" stroke="#555" stroke-width="0.8" fill="none" />
<rect x="656.6" y="143" width="9" height="9" stroke="#555" stroke-width="0.8" fill="none" />
<rect x="656.6" y="154.4" width="9" height="9" stroke="#555" stroke-width="0.8" fill="none" />
<rect x="656.6" y="168" width="9" height="9" stroke="#555" stroke-width="0.8" fill="none" />
<rect x="656.6" y="181.6" width="9" height="9" stroke="#555" stroke-width="0.8" fill="none" />
<path d="M633.5 192.3 C638 197 643 201 649 200.8 C656 200.5 661 194 666 191" fill="none" stroke="#666" stroke-width="0.8"/>
<path d="M666 191 C672 188 682 186.5 692 192.5" fill="none" stroke="#888" stroke-width="0.7"/>
<circle cx="662.5" cy="100" r="26.5" fill="none" stroke="#666" stroke-width="0.8"/>
<line x1="685.2" y1="116.2" x2="700.2" y2="137.2" stroke="#666" stroke-width="0.8" />
<line x1="700.2" y1="137.2" x2="731" y2="137.2" stroke="#666" stroke-width="0.8" />
<text x="709.2" y="136" font-family="Liberation Sans" font-size="8" fill="#555" textLength="21" lengthAdjust="spacingAndGlyphs">View B</text>
<line x1="745.2" y1="136" x2="755" y2="150.7" stroke="#666" stroke-width="0.8" />
<line x1="755" y1="150.7" x2="789.4" y2="150.7" stroke="#666" stroke-width="0.8" />
<text x="765.5" y="148.8" font-family="Liberation Sans" font-size="8" fill="#555" textLength="23" lengthAdjust="spacingAndGlyphs">View B</text>
<clipPath id="cc"><circle cx="83.5" cy="377.5" r="52.3"/></clipPath>
<g clip-path="url(#cc)" fill="none" stroke="#666" stroke-width="0.75">
<polygon points="6.60,272.60 0.95,282.39 -10.35,282.39 -16.00,272.60 -10.35,262.81 0.95,262.81"/>
<polygon points="6.60,298.10 0.95,307.89 -10.35,307.89 -16.00,298.10 -10.35,288.31 0.95,288.31"/>
<polygon points="6.60,323.60 0.95,333.39 -10.35,333.39 -16.00,323.60 -10.35,313.81 0.95,313.81"/>
<polygon points="6.60,349.10 0.95,358.89 -10.35,358.89 -16.00,349.10 -10.35,339.31 0.95,339.31"/>
<polygon points="6.60,374.60 0.95,384.39 -10.35,384.39 -16.00,374.60 -10.35,364.81 0.95,364.81"/>
<polygon points="6.60,400.10 0.95,409.89 -10.35,409.89 -16.00,400.10 -10.35,390.31 0.95,390.31"/>
<polygon points="6.60,425.60 0.95,435.39 -10.35,435.39 -16.00,425.60 -10.35,415.81 0.95,415.81"/>
<polygon points="6.60,451.10 0.95,460.89 -10.35,460.89 -16.00,451.10 -10.35,441.31 0.95,441.31"/>
<polygon points="6.60,476.60 0.95,486.39 -10.35,486.39 -16.00,476.60 -10.35,466.81 0.95,466.81"/>
<polygon points="28.60,285.35 22.95,295.14 11.65,295.14 6.00,285.35 11.65,275.56 22.95,275.56"/>
<polygon points="28.60,310.85 22.95,320.64 11.65,320.64 6.00,310.85 11.65,301.06 22.95,301.06"/>
<polygon points="28.60,336.35 22.95,346.14 11.65,346.14 6.00,336.35 11.65,326.56 22.95,326.56"/>
<polygon points="28.60,361.85 22.95,371.64 11.65,371.64 6.00,361.85 11.65,352.06 22.95,352.06"/>
<polygon points="28.60,387.35 22.95,397.14 11.65,397.14 6.00,387.35 11.65,377.56 22.95,377.56"/>
<polygon points="28.60,412.85 22.95,422.64 11.65,422.64 6.00,412.85 11.65,403.06 22.95,403.06"/>
<polygon points="28.60,438.35 22.95,448.14 11.65,448.14 6.00,438.35 11.65,428.56 22.95,428.56"/>
<polygon points="28.60,463.85 22.95,473.64 11.65,473.64 6.00,463.85 11.65,454.06 22.95,454.06"/>
<polygon points="28.60,489.35 22.95,499.14 11.65,499.14 6.00,489.35 11.65,479.56 22.95,479.56"/>
<polygon points="50.60,272.60 44.95,282.39 33.65,282.39 28.00,272.60 33.65,262.81 44.95,262.81"/>
<polygon points="50.60,298.10 44.95,307.89 33.65,307.89 28.00,298.10 33.65,288.31 44.95,288.31"/>
<polygon points="50.60,323.60 44.95,333.39 33.65,333.39 28.00,323.60 33.65,313.81 44.95,313.81"/>
<polygon points="50.60,349.10 44.95,358.89 33.65,358.89 28.00,349.10 33.65,339.31 44.95,339.31"/>
<polygon points="50.60,374.60 44.95,384.39 33.65,384.39 28.00,374.60 33.65,364.81 44.95,364.81"/>
<polygon points="50.60,400.10 44.95,409.89 33.65,409.89 28.00,400.10 33.65,390.31 44.95,390.31"/>
<polygon points="50.60,425.60 44.95,435.39 33.65,435.39 28.00,425.60 33.65,415.81 44.95,415.81"/>
<polygon points="50.60,451.10 44.95,460.89 33.65,460.89 28.00,451.10 33.65,441.31 44.95,441.31"/>
<polygon points="50.60,476.60 44.95,486.39 33.65,486.39 28.00,476.60 33.65,466.81 44.95,466.81"/>
<polygon points="72.60,285.35 66.95,295.14 55.65,295.14 50.00,285.35 55.65,275.56 66.95,275.56"/>
<polygon points="72.60,310.85 66.95,320.64 55.65,320.64 50.00,310.85 55.65,301.06 66.95,301.06"/>
<polygon points="72.60,336.35 66.95,346.14 55.65,346.14 50.00,336.35 55.65,326.56 66.95,326.56"/>
<polygon points="72.60,361.85 66.95,371.64 55.65,371.64 50.00,361.85 55.65,352.06 66.95,352.06"/>
<polygon points="72.60,387.35 66.95,397.14 55.65,397.14 50.00,387.35 55.65,377.56 66.95,377.56"/>
<polygon points="72.60,412.85 66.95,422.64 55.65,422.64 50.00,412.85 55.65,403.06 66.95,403.06"/>
<polygon points="72.60,438.35 66.95,448.14 55.65,448.14 50.00,438.35 55.65,428.56 66.95,428.56"/>
<polygon points="72.60,463.85 66.95,473.64 55.65,473.64 50.00,463.85 55.65,454.06 66.95,454.06"/>
<polygon points="72.60,489.35 66.95,499.14 55.65,499.14 50.00,489.35 55.65,479.56 66.95,479.56"/>
<polygon points="94.60,272.60 88.95,282.39 77.65,282.39 72.00,272.60 77.65,262.81 88.95,262.81"/>
<polygon points="94.60,298.10 88.95,307.89 77.65,307.89 72.00,298.10 77.65,288.31 88.95,288.31"/>
<polygon points="94.60,323.60 88.95,333.39 77.65,333.39 72.00,323.60 77.65,313.81 88.95,313.81"/>
<polygon points="94.60,349.10 88.95,358.89 77.65,358.89 72.00,349.10 77.65,339.31 88.95,339.31"/>
<polygon points="94.60,374.60 88.95,384.39 77.65,384.39 72.00,374.60 77.65,364.81 88.95,364.81"/>
<polygon points="94.60,400.10 88.95,409.89 77.65,409.89 72.00,400.10 77.65,390.31 88.95,390.31"/>
<polygon points="94.60,425.60 88.95,435.39 77.65,435.39 72.00,425.60 77.65,415.81 88.95,415.81"/>
<polygon points="94.60,451.10 88.95,460.89 77.65,460.89 72.00,451.10 77.65,441.31 88.95,441.31"/>
<polygon points="94.60,476.60 88.95,486.39 77.65,486.39 72.00,476.60 77.65,466.81 88.95,466.81"/>
<polygon points="116.60,285.35 110.95,295.14 99.65,295.14 94.00,285.35 99.65,275.56 110.95,275.56"/>
<polygon points="116.60,310.85 110.95,320.64 99.65,320.64 94.00,310.85 99.65,301.06 110.95,301.06"/>
<polygon points="116.60,336.35 110.95,346.14 99.65,346.14 94.00,336.35 99.65,326.56 110.95,326.56"/>
<polygon points="116.60,361.85 110.95,371.64 99.65,371.64 94.00,361.85 99.65,352.06 110.95,352.06"/>
<polygon points="116.60,387.35 110.95,397.14 99.65,397.14 94.00,387.35 99.65,377.56 110.95,377.56"/>
<polygon points="116.60,412.85 110.95,422.64 99.65,422.64 94.00,412.85 99.65,403.06 110.95,403.06"/>
<polygon points="116.60,438.35 110.95,448.14 99.65,448.14 94.00,438.35 99.65,428.56 110.95,428.56"/>
<polygon points="116.60,463.85 110.95,473.64 99.65,473.64 94.00,463.85 99.65,454.06 110.95,454.06"/>
<polygon points="116.60,489.35 110.95,499.14 99.65,499.14 94.00,489.35 99.65,479.56 110.95,479.56"/>
<polygon points="138.60,272.60 132.95,282.39 121.65,282.39 116.00,272.60 121.65,262.81 132.95,262.81"/>
<polygon points="138.60,298.10 132.95,307.89 121.65,307.89 116.00,298.10 121.65,288.31 132.95,288.31"/>
<polygon points="138.60,323.60 132.95,333.39 121.65,333.39 116.00,323.60 121.65,313.81 132.95,313.81"/>
<polygon points="138.60,349.10 132.95,358.89 121.65,358.89 116.00,349.10 121.65,339.31 132.95,339.31"/>
<polygon points="138.60,374.60 132.95,384.39 121.65,384.39 116.00,374.60 121.65,364.81 132.95,364.81"/>
<polygon points="138.60,400.10 132.95,409.89 121.65,409.89 116.00,400.10 121.65,390.31 132.95,390.31"/>
<polygon points="138.60,425.60 132.95,435.39 121.65,435.39 116.00,425.60 121.65,415.81 132.95,415.81"/>
<polygon points="138.60,451.10 132.95,460.89 121.65,460.89 116.00,451.10 121.65,441.31 132.95,441.31"/>
<polygon points="138.60,476.60 132.95,486.39 121.65,486.39 116.00,476.60 121.65,466.81 132.95,466.81"/>
<polygon points="160.60,285.35 154.95,295.14 143.65,295.14 138.00,285.35 143.65,275.56 154.95,275.56"/>
<polygon points="160.60,310.85 154.95,320.64 143.65,320.64 138.00,310.85 143.65,301.06 154.95,301.06"/>
<polygon points="160.60,336.35 154.95,346.14 143.65,346.14 138.00,336.35 143.65,326.56 154.95,326.56"/>
<polygon points="160.60,361.85 154.95,371.64 143.65,371.64 138.00,361.85 143.65,352.06 154.95,352.06"/>
<polygon points="160.60,387.35 154.95,397.14 143.65,397.14 138.00,387.35 143.65,377.56 154.95,377.56"/>
<polygon points="160.60,412.85 154.95,422.64 143.65,422.64 138.00,412.85 143.65,403.06 154.95,403.06"/>
<polygon points="160.60,438.35 154.95,448.14 143.65,448.14 138.00,438.35 143.65,428.56 154.95,428.56"/>
<polygon points="160.60,463.85 154.95,473.64 143.65,473.64 138.00,463.85 143.65,454.06 154.95,454.06"/>
<polygon points="160.60,489.35 154.95,499.14 143.65,499.14 138.00,489.35 143.65,479.56 154.95,479.56"/>
<polygon points="182.60,272.60 176.95,282.39 165.65,282.39 160.00,272.60 165.65,262.81 176.95,262.81"/>
<polygon points="182.60,298.10 176.95,307.89 165.65,307.89 160.00,298.10 165.65,288.31 176.95,288.31"/>
<polygon points="182.60,323.60 176.95,333.39 165.65,333.39 160.00,323.60 165.65,313.81 176.95,313.81"/>
<polygon points="182.60,349.10 176.95,358.89 165.65,358.89 160.00,349.10 165.65,339.31 176.95,339.31"/>
<polygon points="182.60,374.60 176.95,384.39 165.65,384.39 160.00,374.60 165.65,364.81 176.95,364.81"/>
<polygon points="182.60,400.10 176.95,409.89 165.65,409.89 160.00,400.10 165.65,390.31 176.95,390.31"/>
<polygon points="182.60,425.60 176.95,435.39 165.65,435.39 160.00,425.60 165.65,415.81 176.95,415.81"/>
<polygon points="182.60,451.10 176.95,460.89 165.65,460.89 160.00,451.10 165.65,441.31 176.95,441.31"/>
<polygon points="182.60,476.60 176.95,486.39 165.65,486.39 160.00,476.60 165.65,466.81 176.95,466.81"/>
</g>
<circle cx="83.5" cy="377.5" r="52.3" fill="none" stroke="#555" stroke-width="0.9"/>
<text x="81.45" y="489.2" font-family="Liberation Serif" font-size="11" fill="#1a1a1a" stroke="#1a1a1a" stroke-width="0.12" text-anchor="middle" textLength="86.9" lengthAdjust="spacingAndGlyphs">Mặt lưới cánh trước</text>
<line x1="38" y1="491.59999999999997" x2="124.9" y2="491.59999999999997" stroke="#555" stroke-width="0.7" />
<text x="228.3" y="301.4" font-family="Liberation Sans" font-size="9" fill="#555" text-anchor="middle" >600</text>
<line x1="173.3" y1="302" x2="277.6" y2="302" stroke="#555" stroke-width="0.8" />
<line x1="173.3" y1="300" x2="173.3" y2="453.3" stroke="#555" stroke-width="0.8" />
<line x1="277.8" y1="300" x2="277.8" y2="453.3" stroke="#555" stroke-width="0.8" />
<line x1="168.2" y1="315.9" x2="277.8" y2="315.9" stroke="#555" stroke-width="0.8" />
<line x1="168.4" y1="315.9" x2="168.4" y2="453.3" stroke="#555" stroke-width="0.8" />
<line x1="168.4" y1="453.3" x2="277.8" y2="453.3" stroke="#555" stroke-width="0.8" />
<text x="167.8" y="372" font-family="Liberation Sans" font-size="9" fill="#555" text-anchor="middle" transform="rotate(-90 167.8 372)" >800</text>
<rect x="184.6" y="335.2" width="25.3" height="16.5" stroke="#333" stroke-width="1.4" fill="none" />
<rect x="241" y="335.2" width="25.8" height="16.5" stroke="#333" stroke-width="1.4" fill="none" />
<rect x="204.1" y="363.1" width="43.3" height="43" fill="url(#mesh2)"/>
<text x="225.05" y="489.4" font-family="Liberation Serif" font-size="11" fill="#1a1a1a" stroke="#1a1a1a" stroke-width="0.12" text-anchor="middle" textLength="60.099999999999994" lengthAdjust="spacingAndGlyphs">Mặt nóc Rack</text>
<line x1="195" y1="491.79999999999995" x2="255.1" y2="491.79999999999995" stroke="#555" stroke-width="0.7" />
<text x="357.4" y="304.4" font-family="Liberation Sans" font-size="9" fill="#555" text-anchor="middle" >600</text>
<line x1="306.5" y1="304.8" x2="410" y2="304.8" stroke="#555" stroke-width="0.8" />
<line x1="306.5" y1="302" x2="306.5" y2="453.3" stroke="#555" stroke-width="0.8" />
<line x1="410" y1="302" x2="410" y2="453.3" stroke="#555" stroke-width="0.8" />
<line x1="298.9" y1="316.5" x2="410" y2="316.5" stroke="#555" stroke-width="0.8" />
<line x1="298.9" y1="316.5" x2="298.9" y2="453.3" stroke="#555" stroke-width="0.8" />
<line x1="298.9" y1="453.3" x2="410" y2="453.3" stroke="#555" stroke-width="0.8" />
<text x="298.4" y="374" font-family="Liberation Sans" font-size="9" fill="#555" text-anchor="middle" transform="rotate(-90 298.4 374)" >800</text>
<rect x="336.8" y="339" width="43.2" height="17.6" stroke="#333" stroke-width="1.4" fill="none" rx="8.8"/>
<rect x="336.8" y="412.2" width="43.4" height="17.6" stroke="#333" stroke-width="1.4" fill="none" rx="8.8"/>
<circle cx="308.4" cy="342.2" r="0.9" fill="#333"/>
<circle cx="408.1" cy="342.2" r="0.9" fill="#333"/>
<circle cx="308.4" cy="426" r="0.9" fill="#333"/>
<circle cx="408.1" cy="426" r="0.9" fill="#333"/>
<circle cx="318.7" cy="326.7" r="0.6" fill="#666"/>
<circle cx="397.9" cy="326.7" r="0.6" fill="#666"/>
<circle cx="319" cy="442.3" r="0.6" fill="#666"/>
<circle cx="398.4" cy="442.3" r="0.6" fill="#666"/>
<text x="357.4" y="489.6" font-family="Liberation Serif" font-size="11" fill="#1a1a1a" stroke="#1a1a1a" stroke-width="0.12" text-anchor="middle" textLength="59.599999999999966" lengthAdjust="spacingAndGlyphs">Mặt đáy Rack</text>
<line x1="327.6" y1="492.0" x2="387.2" y2="492.0" stroke="#555" stroke-width="0.7" />
<text x="496.9" y="302.5" font-family="Liberation Sans" font-size="9" fill="#555" text-anchor="middle" >600</text>
<line x1="445" y1="303.8" x2="549" y2="303.8" stroke="#555" stroke-width="0.8" />
<line x1="445" y1="301" x2="445" y2="316.5" stroke="#555" stroke-width="0.8" />
<line x1="549" y1="301" x2="549" y2="316.5" stroke="#555" stroke-width="0.8" />
<line x1="429.6" y1="316.5" x2="549" y2="316.5" stroke="#555" stroke-width="0.8" />
<path d="M444.5 313 L449 316.5 L444.5 320 Z" fill="#111"/>
<line x1="445" y1="319.1" x2="549" y2="319.1" stroke="#222" stroke-width="1.2" />
<line x1="445" y1="316.5" x2="445" y2="452" stroke="#555" stroke-width="0.8" />
<line x1="549.5" y1="316.5" x2="549.5" y2="452" stroke="#555" stroke-width="0.8" />
<line x1="445" y1="333.8" x2="549" y2="333.8" stroke="#555" stroke-width="0.8" />
<line x1="451" y1="337.2" x2="542.5" y2="337.2" stroke="#555" stroke-width="0.8" />
<line x1="451.3" y1="319.5" x2="451.3" y2="322.8" stroke="#222" stroke-width="0.9" />
<line x1="542.7" y1="319.5" x2="542.7" y2="322.8" stroke="#222" stroke-width="0.9" />
<rect x="449.2" y="328" width="2.400000000000034" height="114" fill="#eee" stroke="#555" stroke-width="0.7"/>
<rect x="543.6" y="328" width="2.3999999999999773" height="114" fill="#eee" stroke="#555" stroke-width="0.7"/>
<rect x="452.4" y="336.5" width="1.7000000000000455" height="95" fill="#ccc" stroke="#333" stroke-width="0.7"/>
<rect x="540.6" y="336.5" width="1.6999999999999318" height="95" fill="#ccc" stroke="#333" stroke-width="0.7"/>
<line x1="451.2" y1="431.2" x2="542.2" y2="431.2" stroke="#222" stroke-width="1.4" />
<line x1="445" y1="434.5" x2="549" y2="434.5" stroke="#555" stroke-width="0.8" />
<rect x="456.4" y="420.7" width="82" height="9.6" stroke="#777" stroke-width="0.7" fill="none" />
<text x="496.7" y="420" font-family="Liberation Sans" font-size="8.5" fill="#555" text-anchor="middle" >456</text>
<text x="496.7" y="429" font-family="Liberation Sans" font-size="8.5" fill="#555" text-anchor="middle" >450</text>
<ellipse cx="457.7" cy="442.3" rx="1.4" ry="0.9" fill="none" stroke="#666" stroke-width="0.6"/>
<ellipse cx="537" cy="442.3" rx="1.4" ry="0.9" fill="none" stroke="#666" stroke-width="0.6"/>
<ellipse cx="456.6" cy="326" rx="1.4" ry="0.9" fill="none" stroke="#666" stroke-width="0.6"/>
<ellipse cx="536.3" cy="326" rx="1.4" ry="0.9" fill="none" stroke="#666" stroke-width="0.6"/>
<line x1="445" y1="449.6" x2="549" y2="449.6" stroke="#666" stroke-width="0.8" />
<line x1="445" y1="452" x2="549" y2="452" stroke="#111" stroke-width="1.5" />
<line x1="451.2" y1="446" x2="451.2" y2="449.4" stroke="#333" stroke-width="0.8" />
<line x1="542.6" y1="446" x2="542.6" y2="449.4" stroke="#333" stroke-width="0.8" />
<circle cx="549" cy="452" r="1.8" fill="#111"/>
<line x1="429.6" y1="316.5" x2="429.6" y2="452.7" stroke="#555" stroke-width="0.8" />
<line x1="429.6" y1="452.7" x2="445" y2="452.7" stroke="#555" stroke-width="0.8" />
<text x="427" y="401" font-family="Liberation Sans" font-size="9" fill="#555" text-anchor="middle" transform="rotate(-90 427 401)" >800</text>
<text x="505.4" y="311.6" font-family="Liberation Sans" font-size="8.5" fill="#444" textLength="32.4" lengthAdjust="spacingAndGlyphs">Khay Rack</text>
<line x1="499.7" y1="313.5" x2="538" y2="313.5" stroke="#555" stroke-width="0.8" />
<line x1="499.7" y1="313.5" x2="478.2" y2="335.3" stroke="#555" stroke-width="0.8" />
<text x="495.15" y="489.5" font-family="Liberation Serif" font-size="11" fill="#1a1a1a" stroke="#1a1a1a" stroke-width="0.12" text-anchor="middle" textLength="48.900000000000034" lengthAdjust="spacingAndGlyphs">Mặt cắt 1-1</text>
<line x1="470.7" y1="491.9" x2="519.6" y2="491.9" stroke="#555" stroke-width="0.7" />
<text x="609.5" y="308.5" font-family="Liberation Sans" font-size="7.5" fill="#555" textLength="21" lengthAdjust="spacingAndGlyphs">View B</text>
<line x1="609" y1="310" x2="631" y2="310" stroke="#777" stroke-width="0.6" />
<circle cx="627.3" cy="375.8" r="50.7" fill="none" stroke="#666" stroke-width="0.8"/>
<rect x="614.2" y="339.2" width="9.3" height="14.7" stroke="#555" stroke-width="0.8" fill="none" />
<line x1="614.2" y1="345.6" x2="623.5" y2="345.6" stroke="#555" stroke-width="0.8" />
<rect x="614.2" y="356.5" width="9.3" height="9.1" stroke="#555" stroke-width="0.8" fill="none" />
<rect x="614.2" y="370.4" width="9.3" height="8.8" stroke="#555" stroke-width="0.8" fill="none" />
<rect x="614.2" y="384" width="9.3" height="8.3" stroke="#555" stroke-width="0.8" fill="none" />
<line x1="605.5" y1="345.4" x2="614.2" y2="345.4" stroke="#555" stroke-width="0.8" />
<line x1="605.5" y1="354" x2="614.2" y2="354" stroke="#555" stroke-width="0.8" />
<line x1="606.2" y1="344.5" x2="606.2" y2="355" stroke="#555" stroke-width="0.8" />
<line x1="623.5" y1="349.6" x2="656.6" y2="349.6" stroke="#555" stroke-width="0.8" />
<line x1="656.6" y1="349.6" x2="656.6" y2="388.2" stroke="#555" stroke-width="0.8" />
<line x1="640" y1="388.2" x2="656.6" y2="388.2" stroke="#555" stroke-width="0.8" />
<line x1="623.5" y1="361.3" x2="643" y2="361.3" stroke="#555" stroke-width="0.8" />
<line x1="643" y1="332.8" x2="643" y2="410" stroke="#555" stroke-width="0.8" stroke-dasharray="2.5 1.5"/>
<text x="641.8" y="338.8" font-family="Liberation Sans" font-size="8" fill="#555" text-anchor="middle" transform="rotate(-90 641.8 338.8)" >12.5</text>
<text x="641.8" y="362.8" font-family="Liberation Sans" font-size="8" fill="#555" text-anchor="middle" transform="rotate(-90 641.8 362.8)" >8.8</text>
<text x="655.5" y="364" font-family="Liberation Sans" font-size="8" fill="#555" text-anchor="middle" transform="rotate(-90 655.5 364)" >44.45</text>
<text x="618.8" y="337.6" font-family="Liberation Sans" font-size="6.5" fill="#555" text-anchor="middle" >9.5</text>
<text x="604.6" y="349.6" font-family="Liberation Sans" font-size="7" fill="#555" text-anchor="middle" transform="rotate(-90 604.6 349.6)" >9.5</text>
<defs>
<linearGradient id="gA" x1="0" y1="0" x2="1" y2="0"><stop offset="0" stop-color="#3471b2"/><stop offset="1" stop-color="#55bdf0"/></linearGradient>
<linearGradient id="gB" x1="0" y1="0" x2="1" y2="0"><stop offset="0" stop-color="#2d65a8"/><stop offset="1" stop-color="#4faae2"/></linearGradient>
<linearGradient id="gS" x1="0" y1="0" x2="1" y2="0.6"><stop offset="0" stop-color="#2f6db2"/><stop offset="1" stop-color="#4db0e6"/></linearGradient>
<linearGradient id="gT" x1="0" y1="0" x2="1" y2="0"><stop offset="0" stop-color="#2d6aae"/><stop offset="1" stop-color="#4faae0"/></linearGradient>
<linearGradient id="gBar" x1="0" y1="0" x2="1" y2="0"><stop offset="0" stop-color="#2f6cb0"/><stop offset="1" stop-color="#4aa6de"/></linearGradient>
</defs>
<path d="M745.2 348 A58 58 0 0 1 746.4 416.4" fill="none" stroke="#999" stroke-width="0.8"/>
<g opacity="0.9">
<path d="M603.4 466.3 V409 A37.8 38 0 0 1 641.2 371 V466.3 Z" fill="url(#gA)"/>
<path d="M661.3 466.3 V410 A39 39 0 0 1 698.6 371 V466.3 Z" fill="url(#gA)"/>
<path d="M703.8 466.3 V371 A39 39 0 0 1 742.8 410 V466.3 Z" fill="url(#gB)"/>
<path d="M760.6 466.3 V371 A37.4 36 0 0 1 798 407 V466.3 Z" fill="url(#gB)"/>
</g>
<rect x="698.6" y="370" width="5.2" height="97" fill="#fff"/>
<path d="M666 390.4 C669.00 390.90 678.33 392.20 684.00 393.40 C689.67 394.60 695.00 395.90 700.00 397.60 C705.00 399.30 709.47 400.70 714.00 403.60 C718.53 406.50 723.60 410.93 727.20 415.00 C730.80 419.07 733.60 423.83 735.60 428.00 C737.60 432.17 738.27 435.83 739.20 440.00 C740.13 444.17 740.82 448.62 741.20 453.00 C741.58 457.38 741.45 464.08 741.50 466.30 L767.4 466.3 L767.4 466.3 C765.83 463.25 761.40 453.80 758.00 448.00 C754.60 442.20 751.40 437.00 747.00 431.50 C742.60 426.00 736.93 419.33 731.60 415.00 C726.27 410.67 720.27 408.25 715.00 405.50 C709.73 402.75 705.17 400.58 700.00 398.50 C694.83 396.42 689.67 394.45 684.00 393.00 C678.33 391.55 669.00 390.33 666.00 389.80 Z" fill="#fff"/>
<path d="M666 389.8 C669.33 389.53 679.50 388.50 686.00 388.20 C692.50 387.90 699.00 387.78 705.00 388.00 C711.00 388.22 716.50 388.73 722.00 389.50 C727.50 390.27 732.33 390.77 738.00 392.60 C743.67 394.43 750.67 397.10 756.00 400.50 C761.33 403.90 765.67 408.42 770.00 413.00 C774.33 417.58 778.50 423.00 782.00 428.00 C785.50 433.00 788.42 436.62 791.00 443.00 C793.58 449.38 796.42 462.42 797.50 466.30 L767.4 466.3 C765.83 463.25 761.40 453.80 758.00 448.00 C754.60 442.20 751.40 437.00 747.00 431.50 C742.60 426.00 736.93 419.33 731.60 415.00 C726.27 410.67 720.27 408.25 715.00 405.50 C709.73 402.75 705.17 400.58 700.00 398.50 C694.83 396.42 689.67 394.45 684.00 393.00 C678.33 391.55 669.00 390.33 666.00 389.80 Z" fill="url(#gS)" opacity="0.95"/>
<path d="M666 389.8 C669.33 389.53 679.50 388.50 686.00 388.20 C692.50 387.90 699.00 387.78 705.00 388.00 C711.00 388.22 716.50 388.73 722.00 389.50 C727.50 390.27 732.33 390.77 738.00 392.60 C743.67 394.43 750.67 397.10 756.00 400.50 C761.33 403.90 765.67 408.42 770.00 413.00 C774.33 417.58 778.50 423.00 782.00 428.00 C785.50 433.00 788.42 436.62 791.00 443.00 C793.58 449.38 796.42 462.42 797.50 466.30" fill="none" stroke="#fff" stroke-width="2.6"/>
<path d="M666 389.8 C669.00 390.33 678.33 391.55 684.00 393.00 C689.67 394.45 694.83 396.42 700.00 398.50 C705.17 400.58 709.73 402.75 715.00 405.50 C720.27 408.25 726.27 410.67 731.60 415.00 C736.93 419.33 742.60 426.00 747.00 431.50 C751.40 437.00 754.60 442.20 758.00 448.00 C761.40 453.80 765.83 463.25 767.40 466.30" fill="none" stroke="#fff" stroke-width="2.6"/>
<polygon points="701.30,407.40 704.59,416.67 714.42,416.94 706.63,422.93 709.41,432.36 701.30,426.80 693.19,432.36 695.97,422.93 688.18,416.94 698.01,416.67" fill="#3a82c6" stroke="#fff" stroke-width="2.2" stroke-linejoin="miter"/>
<path d="M636.3 431.2 V423.0 Q636.3 420.5 640.6 420.5 V431.2 Z" fill="url(#gBar)" stroke="#fff" stroke-width="1.6"/>
<path d="M642.2 431.2 V420.0 Q642.2 417.2 647.4 417.2 V431.2 Z" fill="url(#gBar)" stroke="#fff" stroke-width="1.6"/>
<path d="M649.2 431.2 V417.0 Q649.2 414.0 656.2 414.0 V431.2 Z" fill="url(#gBar)" stroke="#fff" stroke-width="1.6"/>
<path d="M657.8 431.2 V414.0 Q657.8 409.3 666.2 409.3 V431.2 Z" fill="url(#gBar)" stroke="#fff" stroke-width="1.6"/>
<text x="604.3" y="495.9" font-family="Liberation Sans" font-weight="bold" font-size="29.5" fill="url(#gT)" stroke="url(#gT)" stroke-width="1.5" textLength="25.14" lengthAdjust="spacingAndGlyphs">T</text>
<text x="632.2" y="495.9" font-family="Liberation Sans" font-weight="bold" font-size="29.5" fill="url(#gT)" stroke="url(#gT)" stroke-width="1.5" textLength="21.84" lengthAdjust="spacingAndGlyphs">E</text>
<text x="657.4" y="495.9" font-family="Liberation Sans" font-weight="bold" font-size="29.5" fill="url(#gT)" stroke="url(#gT)" stroke-width="1.5" textLength="18.68" lengthAdjust="spacingAndGlyphs">L</text>
<text x="678.6" y="495.9" font-family="Liberation Sans" font-weight="bold" font-size="29.5" fill="url(#gT)" stroke="url(#gT)" stroke-width="1.5" textLength="22.37" lengthAdjust="spacingAndGlyphs">E</text>
<text x="705.0" y="495.9" font-family="Liberation Sans" font-weight="bold" font-size="29.5" fill="url(#gT)" stroke="url(#gT)" stroke-width="1.5" textLength="23.44" lengthAdjust="spacingAndGlyphs">C</text>
<text x="732.0" y="495.9" font-family="Liberation Sans" font-weight="bold" font-size="29.5" fill="url(#gT)" stroke="url(#gT)" stroke-width="1.5" textLength="29.0" lengthAdjust="spacingAndGlyphs">O</text>
<text x="763.9" y="495.9" font-family="Liberation Sans" font-weight="bold" font-size="29.5" fill="url(#gT)" stroke="url(#gT)" stroke-width="1.5" textLength="35.33" lengthAdjust="spacingAndGlyphs">M</text>
</svg>
</body></html>
